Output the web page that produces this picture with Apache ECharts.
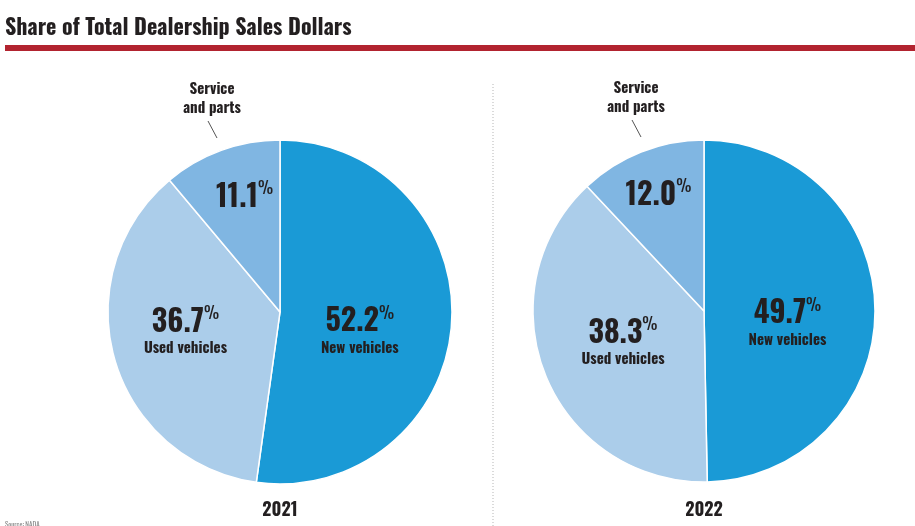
<!DOCTYPE html>
<html>
<head>
<meta charset="utf-8">
<script src="https://cdn.jsdelivr.net/npm/echarts@6/dist/echarts.min.js"></script>
<style>
html,body{margin:0;padding:0;background:#fff;}
#chart{width:915px;height:526px;}
</style>
</head>
<body>
<div id="chart"></div>
<script>
// ---- Data ----
const chartTitle = 'Share of Total Dealership Sales Dollars';
const categories = ['New vehicles', 'Used vehicles', 'Service and parts'];
const years = ['2021', '2022'];
const share2021 = [52.2, 36.7, 11.1];
const share2022 = [49.7, 38.3, 12.0];
const sourceNote = 'Source: NADA';

// ---- Styles / layout ----
const FONT = 'Oswald, "Roboto Condensed", "Archivo Narrow", "DejaVu Sans Condensed", sans-serif';
const TEXT = '#231f20';
const colors = ['#1a9ad6', '#abcdea', '#80b6e2'];
const pies = [
  { center: [280, 312], r: 172, values: share2021, year: years[0],
    nudge: [[-9, 13], [-9, -5], [-5, -31]] },
  { center: [704, 311], r: 171, values: share2022, year: years[1],
    nudge: [[-5, 13], [1, -2], [-13, -33]] }
];
// outside label offsets relative to pie center
const outLabel = [-68, -213];
const outLine = [[-63, -174], [-72, -191]];

const rich = {
  v: { fontFamily: FONT, fontWeight: 'bold', fontSize: 30, color: TEXT, lineHeight: 34 },
  p: { fontFamily: FONT, fontWeight: 'normal', fontSize: 17, color: TEXT, lineHeight: 20, verticalAlign: 'top' },
  n: { fontFamily: FONT, fontWeight: 'bold', fontSize: 15, color: TEXT, lineHeight: 18 }
};

const series = [];
pies.forEach((pc, pi) => {
  const data = categories.map((c, i) => ({ name: c, value: pc.values[i], itemStyle: { color: colors[i] } }));
  series.push({
    type: 'pie',
    center: pc.center,
    radius: [0, pc.r],
    startAngle: 90,
    clockwise: true,
    silent: true,
    avoidLabelOverlap: false,
    itemStyle: { borderColor: '#fff', borderWidth: 1.5 },
    label: {
      show: true,
      position: 'inside',
      rich: rich,
      formatter: (p) => {
        const v = p.value.toFixed(1);
        return p.dataIndex === 2 ? `{v|${v}}{p|%}` : `{v|${v}}{p|%}\n{n|${p.name}}`;
      }
    },
    labelLayout: (p) => ({ dx: pc.nudge[p.dataIndex][0], dy: pc.nudge[p.dataIndex][1] }),
    labelLine: { show: false },
    data: data
  });
  // overlay series for the outside "Service and parts" call-out
  series.push({
    type: 'pie',
    center: pc.center,
    radius: [0, pc.r],
    startAngle: 90,
    clockwise: true,
    silent: true,
    avoidLabelOverlap: false,
    itemStyle: { color: 'rgba(0,0,0,0)' },
    label: {
      position: 'outside',
      fontFamily: FONT, fontWeight: 'bold', fontSize: 15, color: TEXT, lineHeight: 19,
      align: 'center',
      formatter: () => 'Service\nand parts'
    },
    labelLine: { show: true, length: 10, length2: 0, lineStyle: { color: '#555', width: 1 } },
    labelLayout: (p) => {
      if (p.dataIndex !== 2) return {};
      const cx = pc.center[0], cy = pc.center[1];
      return {
        x: cx + outLabel[0], y: cy + outLabel[1], align: 'center', verticalAlign: 'middle',
        labelLinePoints: [
          [cx + outLine[0][0], cy + outLine[0][1]],
          [cx + outLine[1][0], cy + outLine[1][1]],
          [cx + outLine[1][0], cy + outLine[1][1]]
        ]
      };
    },
    data: categories.map((c, i) => ({
      name: c, value: pc.values[i],
      label: { show: i === 2 },
      labelLine: { show: i === 2 }
    }))
  });
});

const graphic = [
  { type: 'text', x: 5, y: 28, style: { text: chartTitle, fontFamily: FONT, fontWeight: 'bold', fontSize: 22, fill: TEXT, textVerticalAlign: 'middle' } },
  { type: 'rect', shape: { x: 5, y: 45, width: 910, height: 6 }, style: { fill: '#b2232f' } },
  { type: 'line', shape: { x1: 493, y1: 84, x2: 493, y2: 526 }, style: { stroke: '#b5b5b5', lineWidth: 1, lineDash: [1, 2] } },
  { type: 'text', x: 5, y: 521, style: { text: sourceNote, fontFamily: FONT, fontSize: 7, fill: '#888' } }
];
pies.forEach((pc) => {
  graphic.push({ type: 'text', x: pc.center[0], y: 511, style: { text: pc.year, fontFamily: FONT, fontWeight: 'bold', fontSize: 18, fill: TEXT, textAlign: 'center', textVerticalAlign: 'middle' } });
});

const chart = echarts.init(document.getElementById('chart'), null, { renderer: 'canvas' });
chart.setOption({
  backgroundColor: '#fff',
  animation: false,
  series: series,
  graphic: graphic
});
</script>
</body>
</html>
